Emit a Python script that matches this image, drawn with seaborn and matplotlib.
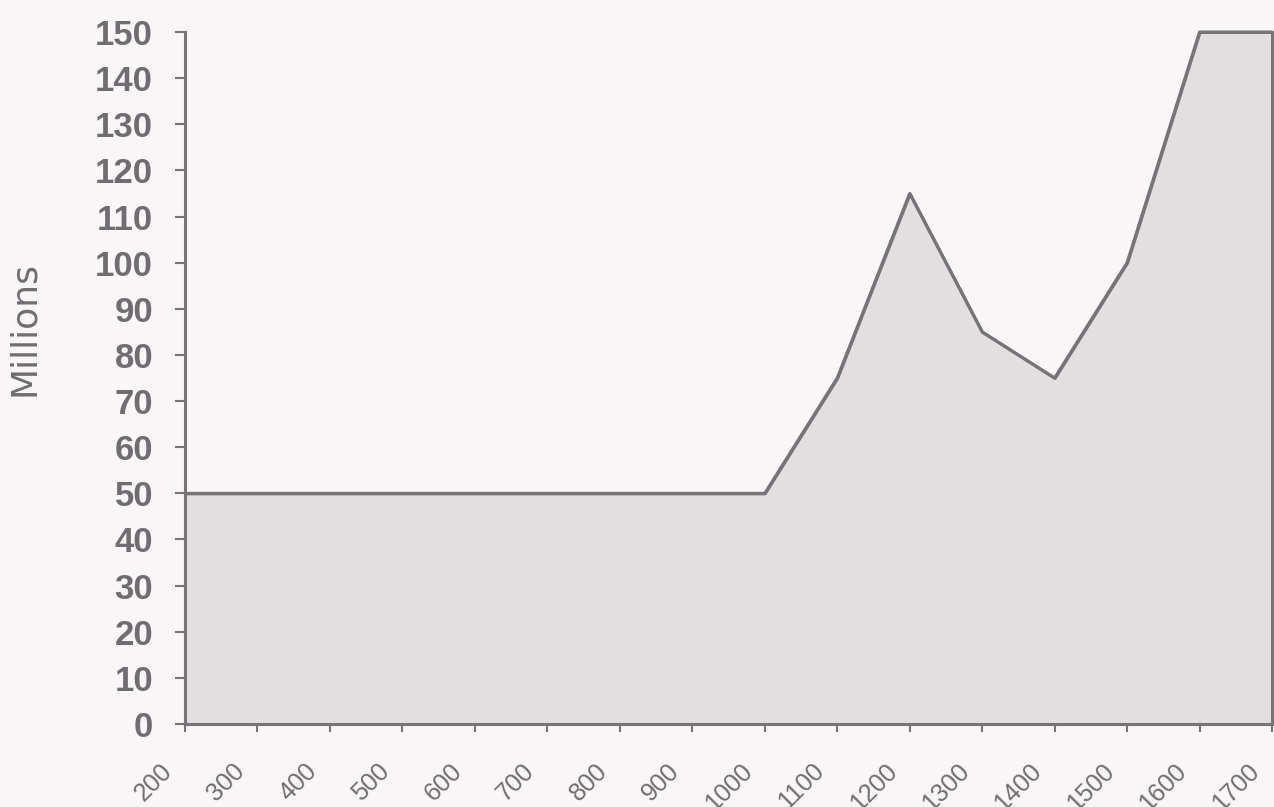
import matplotlib
matplotlib.use("Agg")
import matplotlib.pyplot as plt
import matplotlib.transforms as mtransforms
import numpy as np
import pandas as pd
import seaborn as sns

# Population estimates (millions) by year
years = [200, 300, 400, 500, 600, 700, 800, 900, 1000,
         1100, 1200, 1300, 1400, 1500, 1600, 1700]
population = [50, 50, 50, 50, 50, 50, 50, 50, 50,
              75, 115, 85, 75, 100, 150, 150]
y_ticks = list(range(0, 151, 10))

BG = "#f8f6f6"
FILL = "#e1dfe0"
LINE = "#767478"
TEXT = "#6f6d71"

sns.set_theme(style="white")
plt.rcParams["font.family"] = ["Liberation Sans", "DejaVu Sans"]

df = pd.DataFrame({"year": years, "population": population})

fig = plt.figure(figsize=(12.74, 8.07), dpi=100, facecolor=BG)
ax = fig.add_axes([185 / 1274, 1 - 724 / 807, 1087 / 1274, 692 / 807])
ax.set_facecolor(BG)

ax.fill_between(df["year"], df["population"], 0, facecolor=FILL,
                edgecolor=LINE, linewidth=2.2, clip_on=False, zorder=2)
sns.lineplot(data=df, x="year", y="population", ax=ax, color=LINE,
             linewidth=2.2, clip_on=False, zorder=3)

ax.set_xlim(years[0], years[-1])
ax.set_ylim(0, 150)
ax.set_xticks(years)
ax.set_xticklabels([str(y) for y in years])
ax.set_yticks(y_ticks)
ax.set_yticklabels([str(t) for t in y_ticks])

for side in ("top", "right"):
    ax.spines[side].set_visible(False)
for side in ("left", "bottom"):
    ax.spines[side].set_color(LINE)
    ax.spines[side].set_linewidth(2.2)
    ax.spines[side].set_zorder(4)

ax.tick_params(axis="y", which="major", direction="out", length=7, width=1.5,
               color=LINE, pad=16, labelsize=25, labelcolor=TEXT, left=True)
ax.tick_params(axis="x", which="major", direction="out", length=6, width=1.5,
               color=LINE, pad=19, labelsize=18, labelcolor=TEXT, bottom=True)

for lbl in ax.get_yticklabels():
    lbl.set_fontweight("bold")

shift = mtransforms.ScaledTranslation(-0.25, 0, fig.dpi_scale_trans)
for lbl in ax.get_xticklabels():
    lbl.set_rotation(45)
    lbl.set_rotation_mode("anchor")
    lbl.set_ha("right")
    lbl.set_va("top")
    lbl.set_transform(lbl.get_transform() + shift)

ax.set_xlabel("")
ax.set_ylabel("")
fig.text(24 / 1274, 1 - 329 / 807, "Millions", rotation=90, ha="center",
         va="center", fontsize=26, color=TEXT, family=["DejaVu Sans"])

fig.savefig("out.png", dpi=100, facecolor=BG)
